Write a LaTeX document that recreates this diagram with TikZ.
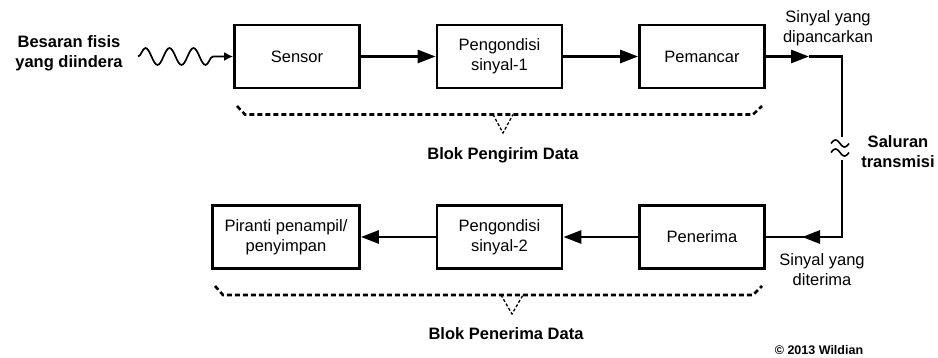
\documentclass[tikz,border=0pt]{standalone}
\usepackage{fontspec}
\setmainfont{Liberation Sans}
\usetikzlibrary{arrows.meta,decorations.pathmorphing}
\begin{document}
\begin{tikzpicture}[x=1pt,y=-1pt,
  blok/.style={draw,line width=2.8pt,minimum width=125pt,minimum height=63pt,inner sep=0pt,align=center,font=\fontsize{16.5}{20}\selectfont},
  lbl/.style={align=center,font=\fontsize{16.5}{20}\selectfont,inner sep=0pt},
  blbl/.style={align=center,font=\fontsize{16.5}{20}\selectfont\bfseries,inner sep=0pt},
  conn/.style={line width=2.8pt},
  arr/.style={conn,-{Triangle[length=18pt,width=13pt]}},
  brace/.style={line width=2.6pt,dash pattern=on 5pt off 3pt},
  tri/.style={line width=1.3pt,dash pattern=on 3pt off 2pt}]
\useasboundingbox (0,0) rectangle (938,358);
% top row
\node[blok] (sensor) at (297,56.5) {Sensor};
\node[blok] (peng1) at (499.5,56.5) {Pengondisi\\sinyal-1};
\node[blok] (pem) at (702,56.5) {Pemancar};
% bottom row
\node[blok,minimum width=147pt] (pir) at (286,237) {Piranti penampil/\\penyimpan};
\node[blok] (peng2) at (499.5,237) {Pengondisi\\sinyal-2};
\node[blok] (pen) at (702,237) {Penerima};
% labels
\node[blbl] (besar) at (69,53) {Besaran fisis\\yang diindera};
\node[lbl] (dipancar) at (828,28) {Sinyal yang\\dipancarkan};
\node[lbl] (diterima) at (822,270) {Sinyal yang\\diterima};
\node[blbl] (saluran) at (898,152) {Saluran\\transmisi};
\node[blbl] (pengirim) at (503,155) {Blok Pengirim Data};
\node[blbl] (penerimad) at (506,334) {Blok Penerima Data};
\node[blbl,font=\fontsize{12.5}{15}\selectfont\bfseries] (copy) at (819,350) {© 2013 Wildian};
% coordinates
\coordinate (src) at (138,56.5);
\coordinate (tx) at (809,56.5);
\coordinate (c1) at (842,56.5);
\coordinate (g1) at (842,137);
\coordinate (g2) at (842,160);
\coordinate (c2) at (842,237);
\coordinate (rx) at (802,237);
% wavy input
\draw[line width=1.7pt,decorate,decoration={snake,amplitude=8.5pt,segment length=24pt,post length=9pt},-{Latex[length=9pt,width=9pt]}] (src) -- (sensor.west);
% connectors
\draw[arr] (sensor) -- (peng1);
\draw[arr] (peng1) -- (pem);
\draw[arr] (pem.east) -- (tx);
\draw[conn] (tx) -- (c1) -- (g1);
\draw[conn] (g2) -- (c2) -- (rx);
\draw[arr] (c2) -- (rx);
\draw[conn] (rx) -- (pen.east);
\draw[arr] (pen) -- (peng2);
\draw[arr] (peng2) -- (pir);
% approx symbol
\draw[line width=1.6pt] plot[smooth,domain=0:1,samples=20] ({831+18*\x},{143.5-3.5*sin(\x*360)});
\draw[line width=1.6pt] plot[smooth,domain=0:1,samples=20] ({831+18*\x},{152.5-3.5*sin(\x*360)});
% braces
\draw[brace] (237,106) -- (245,114.5) -- (753,114.5) -- (762,106);
\draw[tri] (493,114.5) -- (503,133) -- (513,114.5);
\draw[brace] (215,286) -- (223,295) -- (753,295) -- (762,286);
\draw[tri] (501,295) -- (512,314) -- (523,295);
\end{tikzpicture}
\end{document}
